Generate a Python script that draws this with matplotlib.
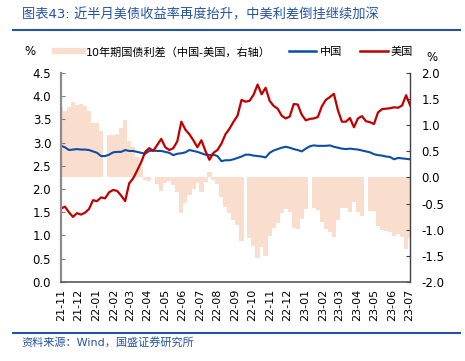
import numpy as np
import pandas as pd
import matplotlib
matplotlib.use("Agg")
import matplotlib.pyplot as plt
from matplotlib.lines import Line2D

plt.rcParams['font.family'] = ['DejaVu Sans', 'Noto Sans CJK SC']
plt.rcParams['axes.unicode_minus'] = False

# weekly observations, Mondays from 2021-11-15
start_date = "2021-11-15"
n_weeks = 88

# 10年期美债收益率 (%)
us_10y = [1.58, 1.62, 1.50, 1.40, 1.48, 1.45, 1.49, 1.57, 1.76, 1.74,
          1.82, 1.80, 1.93, 1.98, 1.96, 1.86, 1.74, 2.12, 2.23, 2.40,
          2.58, 2.80, 2.88, 2.82, 2.95, 3.08, 2.90, 2.84, 2.88, 3.03,
          3.45, 3.28, 3.18, 3.05, 2.90, 3.05, 2.82, 2.63, 2.78, 2.84,
          2.98, 3.18, 3.30, 3.45, 3.58, 3.92, 3.88, 3.90, 4.03, 4.25,
          4.04, 4.18, 3.90, 3.79, 3.73, 3.58, 3.52, 3.56, 3.83, 3.82,
          3.60, 3.48, 3.51, 3.52, 3.55, 3.78, 3.92, 3.98, 4.05, 3.70,
          3.45, 3.45, 3.53, 3.33, 3.52, 3.57, 3.46, 3.44, 3.40, 3.65,
          3.72, 3.73, 3.74, 3.76, 3.75, 3.80, 4.02, 3.80]

# 10年期中债收益率 (%)
cn_10y = [2.93, 2.90, 2.84, 2.85, 2.86, 2.85, 2.85, 2.84, 2.81, 2.78,
          2.71, 2.71, 2.74, 2.79, 2.80, 2.80, 2.84, 2.82, 2.82, 2.80,
          2.78, 2.76, 2.82, 2.83, 2.82, 2.82, 2.80, 2.78, 2.73, 2.76,
          2.77, 2.79, 2.84, 2.82, 2.80, 2.77, 2.74, 2.73, 2.74, 2.71,
          2.60, 2.62, 2.62, 2.64, 2.67, 2.70, 2.74, 2.74, 2.72, 2.71,
          2.70, 2.68, 2.78, 2.83, 2.86, 2.89, 2.91, 2.89, 2.86, 2.84,
          2.81, 2.87, 2.92, 2.94, 2.93, 2.93, 2.93, 2.94, 2.91, 2.89,
          2.87, 2.86, 2.87, 2.86, 2.85, 2.83, 2.81, 2.79, 2.75, 2.73,
          2.72, 2.70, 2.69, 2.64, 2.67, 2.66, 2.65, 2.64]

# weeks with China market closed (spread missing)
cn_closed = ["2022-01-31", "2022-10-03", "2023-01-23", "2023-05-01"]

title = "图表43: 近半月美债收益率再度抬升，中美利差倒挂继续加深"
source = "资料来源：Wind，国盛证券研究所"
spread_label = "10年期国债利差（中国-美国，右轴）"

BLUE = "#0E4DA4"
RED = "#C00000"
PEACH = "#FADECD"
HEAD = "#2453A0"

dates = pd.date_range(start_date, periods=n_weeks, freq="7D")
us = np.array(us_10y)
cn = np.array(cn_10y)
spread = cn - us
spread[dates.isin(pd.to_datetime(cn_closed))] = np.nan

fig = plt.figure(figsize=(4.65, 3.61), dpi=100)
ax = fig.add_axes([0.131, 0.219, 0.751, 0.579])
ax2 = ax.twinx()
ax.set_zorder(ax2.get_zorder() + 1)
ax.patch.set_visible(False)

# spread bars behind the lines (right axis)
ax2.bar(dates, spread, width=7.5, color=PEACH, linewidth=0, edgecolor='none')
ax.plot(dates, cn, color=BLUE, lw=1.5)
ax.plot(dates, us, color=RED, lw=1.6)

ax.set_xlim(dates[0], dates[-1])
ax.set_ylim(0, 4.5)
ax2.set_ylim(-2, 2)
ax.set_yticks(np.arange(0, 4.51, 0.5))
ax.set_yticklabels([f"{v:.1f}" for v in np.arange(0, 4.51, 0.5)])
ax2.set_yticks(np.arange(-2, 2.01, 0.5))
ax2.set_yticklabels([f"{v:.1f}" for v in np.arange(-2, 2.01, 0.5)])

ticks = [pd.Timestamp(start_date) + pd.DateOffset(months=i) for i in range(21)]
ax.set_xticks(ticks)
ax.set_xticklabels([t.strftime("%y-%m") for t in ticks], rotation=90)

ax.tick_params(axis='y', direction='in', length=3, pad=7, labelsize=8.5, color='#808080')
ax2.tick_params(axis='y', direction='in', length=3, pad=8, labelsize=8.5, color='#404040')
ax.tick_params(axis='x', length=0, pad=5, labelsize=8)
ax2.tick_params(axis='x', length=0)

for a in (ax, ax2):
    a.spines['top'].set_visible(False)
    a.spines['left'].set_visible(False)
    a.spines['right'].set_visible(False)
ax.spines['left'].set_visible(True)
ax.spines['left'].set_color('#8c8c8c')
ax.spines['left'].set_linewidth(1.6)
ax.spines['bottom'].set_color('#595959')
ax.spines['bottom'].set_linewidth(1.2)
ax2.spines['right'].set_visible(True)
ax2.spines['right'].set_color('#404040')
ax2.spines['right'].set_linewidth(1.0)
ax2.spines['bottom'].set_visible(False)

fig.text(0.065, 0.856, "%", fontsize=8.5, ha='center', va='center')
fig.text(0.929, 0.842, "%", fontsize=8.5, ha='center', va='center')

handles = [Line2D([], [], color=PEACH, lw=4.5),
           Line2D([], [], color=BLUE, lw=1.8),
           Line2D([], [], color=RED, lw=1.8)]
fig.legend(handles, [spread_label, "中国", "美国"], ncol=3, frameon=False,
           loc='center left', bbox_to_anchor=(0.118, 0.856), fontsize=8,
           handlelength=2.5, handletextpad=0.3, columnspacing=1.6,
           borderpad=0, borderaxespad=0)

fig.text(0.047, 0.958, title, fontsize=9.5, color=HEAD, ha='left', va='center')
fig.add_artist(Line2D([0.028, 0.99], [0.917, 0.917], color=HEAD, lw=1.5))
fig.add_artist(Line2D([0.028, 0.99], [0.078, 0.078], color=HEAD, lw=1.5))
fig.text(0.047, 0.053, source, fontsize=8, color=HEAD, ha='left', va='center')

fig.savefig("out.png", dpi=100)
